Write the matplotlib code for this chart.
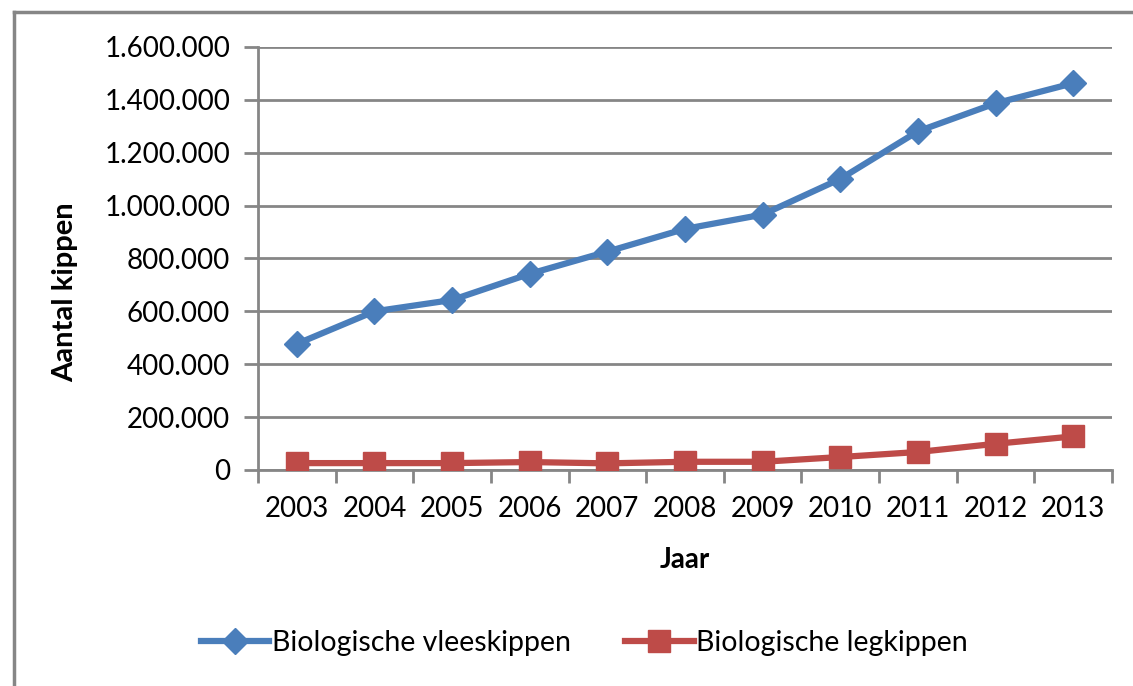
import matplotlib.pyplot as plt
from matplotlib.lines import Line2D
from matplotlib.ticker import FuncFormatter

years = ['2003', '2004', '2005', '2006', '2007', '2008', '2009', '2010', '2011', '2012', '2013']
vleeskippen = [477000, 600000, 643000, 742000, 826000, 912000, 966000, 1101000, 1281000, 1387000, 1463000]
legkippen = [26000, 26000, 26000, 30000, 25000, 31000, 31000, 49000, 68000, 99000, 127000]
y_ticks = [0, 200000, 400000, 600000, 800000, 1000000, 1200000, 1400000, 1600000]

plt.rcParams['font.family'] = ['Lato', 'DejaVu Sans']
grey = '#868686'

fig = plt.figure(figsize=(11.33, 6.86), dpi=100)
ax = fig.add_axes([0.2277, 0.3149, 0.7538, 0.6166])

x = list(range(len(years)))
ax.plot(x, vleeskippen, color='#4a7ebb', lw=4.5, marker='D', ms=13,
        label='Biologische vleeskippen', zorder=3)
ax.plot(x, legkippen, color='#be4b48', lw=4.5, marker='s', ms=16,
        label='Biologische legkippen', zorder=3)

ax.set_xlim(-0.5, len(years) - 0.5)
ax.set_ylim(0, 1600000)
ax.set_yticks(y_ticks)
ax.yaxis.set_major_formatter(FuncFormatter(lambda v, p: f'{int(v):,}'.replace(',', '.')))
ax.set_xticks(x)
ax.set_xticklabels(years)
ax.set_xticks([i - 0.5 for i in range(len(years) + 1)], minor=True)
ax.tick_params(axis='x', which='major', length=0, pad=19, labelsize=20)
ax.tick_params(axis='x', which='minor', length=9, width=2, color=grey, direction='out')
ax.tick_params(axis='y', length=10, width=2, color=grey, pad=10, labelsize=20)

ax.grid(axis='y', color=grey, lw=2)
ax.set_axisbelow(True)
for s in ['top', 'right']:
    ax.spines[s].set_visible(False)
for s in ['left', 'bottom']:
    ax.spines[s].set_color(grey)
    ax.spines[s].set_linewidth(2)

ax.set_xlabel('Jaar', fontsize=20, fontweight='bold', labelpad=18)
ax.set_ylabel('Aantal kippen', fontsize=21, fontweight='bold')
ax.yaxis.set_label_coords(-0.211, 0.42)

fig.legend(loc='center', bbox_to_anchor=(0.516, 0.063), ncol=2, frameon=False,
           fontsize=20.5, handlelength=2.4, handletextpad=0.1, columnspacing=1.9)

# chart frame (left and top edge visible)
fig.add_artist(Line2D([0.012, 0.012], [0.0, 0.982], transform=fig.transFigure, color=grey, lw=2.5))
fig.add_artist(Line2D([0.012, 1.0], [0.982, 0.982], transform=fig.transFigure, color=grey, lw=2.5))

fig.savefig('out.png', dpi=100)
